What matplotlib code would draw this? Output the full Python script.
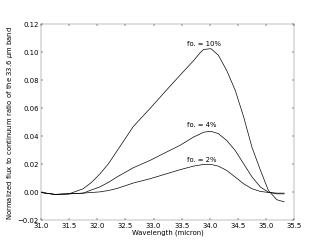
import matplotlib
matplotlib.use('Agg')
import matplotlib.pyplot as plt
import numpy as np

wavelength = [31.0, 31.25, 31.5, 31.75, 31.9, 32.05, 32.2, 32.35, 32.64, 32.94, 33.23, 33.47,
              33.71, 33.83, 33.89, 34.02, 34.15, 34.30, 34.45, 34.60, 34.75, 34.90,
              35.04, 35.19, 35.32]

flux_10 = [0.000, -0.0014, -0.0010, 0.0026, 0.0072, 0.0133, 0.0205, 0.0295, 0.0470, 0.0600,
           0.0730, 0.0836, 0.0940, 0.0998, 0.1020, 0.1026, 0.0980, 0.0870, 0.0730, 0.0540,
           0.0320, 0.0157, 0.0014, -0.0052, -0.0067]
flux_4 = [0.000, -0.0014, -0.0010, -0.0005, 0.0018, 0.0040, 0.0072, 0.0110, 0.0176, 0.0229,
          0.0288, 0.0336, 0.0395, 0.0418, 0.0430, 0.0436, 0.0420, 0.0371, 0.0300, 0.0205,
          0.0110, 0.0038, 0.0002, -0.0010, -0.0010]
flux_2 = [0.000, -0.0014, -0.0010, -0.0005, 0.0000, 0.0004, 0.0014, 0.0028, 0.0067, 0.0098,
          0.0133, 0.0162, 0.0188, 0.0196, 0.0200, 0.0200, 0.0188, 0.0157, 0.0110, 0.0062,
          0.0026, 0.0007, 0.0000, -0.0005, -0.0005]

labels = ['fo. = 10%', 'fo. = 4%', 'fo. = 2%']
label_y = [0.106, 0.048, 0.0235]

plt.rcParams['xtick.direction'] = 'in'
plt.rcParams['ytick.direction'] = 'in'
plt.rcParams['font.size'] = 12

fig = plt.figure(figsize=(8, 6), dpi=40.875)
ax = fig.add_axes([0.125, 0.1, 0.775, 0.8])

for f in [flux_10, flux_4, flux_2]:
    ax.plot(wavelength, f, color='black', lw=1.2)

for lab, y in zip(labels, label_y):
    ax.text(33.6, y, lab, ha='left', va='center', fontsize=12)

ax.set_xlim(31.0, 35.5)
ax.set_ylim(-0.02, 0.12)
ax.set_xticks(np.arange(31.0, 35.51, 0.5))
ax.set_yticks(np.arange(-0.02, 0.121, 0.02))
ax.tick_params(top=True, right=True, length=4, labelsize=12)
for s in ax.spines.values():
    s.set_color('0.45')
ax.set_xlabel('Wavelength (micron)', labelpad=2)
ax.set_ylabel(r'Normalized flux to continuum ratio of the 33.6 $\mu$m band', labelpad=4)

fig.savefig('out.png', dpi=40.875, facecolor='white')
